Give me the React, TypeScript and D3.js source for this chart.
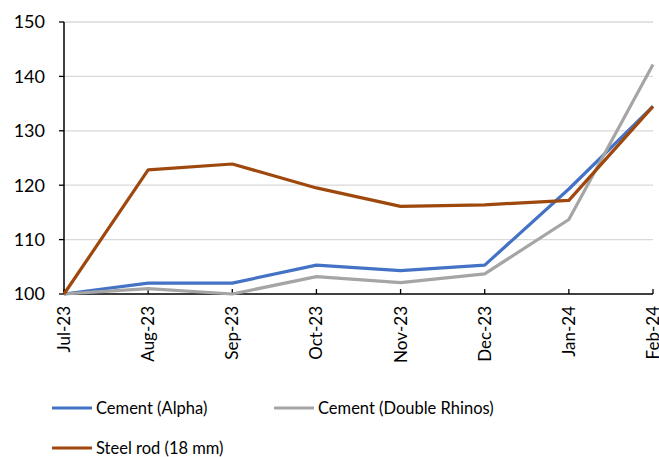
import * as d3 from "d3";

const months = ["Jul-23", "Aug-23", "Sep-23", "Oct-23", "Nov-23", "Dec-23", "Jan-24", "Feb-24"];
const alpha = [100, 102, 102, 105.3, 104.3, 105.3, 119.3, 134.5];
const doubleRhinos = [100, 101, 100, 103.2, 102.1, 103.7, 113.7, 142.2];
const steelRod = [100, 122.8, 123.9, 119.5, 116.1, 116.4, 117.2, 134.5];
const yTicks = [100, 110, 120, 130, 140, 150];

const series = [
  { name: "Cement (Alpha)", values: alpha, color: "#4472C4" },
  { name: "Cement (Double Rhinos)", values: doubleRhinos, color: "#A5A5A5" },
  { name: "Steel rod (18 mm)", values: steelRod, color: "#9E480E" },
];

const font = "Lato, 'Open Sans', sans-serif";

export default function App() {
  const width = 659;
  const height = 457;
  const left = 64;
  const right = 653;
  const top = 22;
  const bottom = 294;

  const x = d3.scalePoint<string>().domain(months).range([left, right]);
  const y = d3.scaleLinear().domain([100, 150]).range([bottom, top]);

  const lineGen = d3
    .line<number>()
    .x((_, i) => x(months[i]) as number)
    .y((d) => y(d));

  // legend slots: [x, y]
  const legendPos = [
    [52, 408],
    [274, 408],
    [52, 448],
  ];

  return (
    <svg
      width={width}
      height={height}
      style={{ position: "absolute", left: 0, top: 0, background: "#fff" }}
    >
      {yTicks.map((t) => (
        <g key={t}>
          {t > 100 && (
            <line x1={left} x2={right} y1={y(t)} y2={y(t)} stroke="#d9d9d9" strokeWidth={1.3} />
          )}
          <line x1={left - 5} x2={left} y1={y(t)} y2={y(t)} stroke="#000" strokeWidth={1.3} />
          <text
            x={45}
            y={y(t)}
            dy="0.35em"
            textAnchor="end"
            fontFamily={font}
            fontSize={18}
            fill="#000"
          >
            {t}
          </text>
        </g>
      ))}
      <line x1={left} x2={left} y1={top} y2={bottom} stroke="#000" strokeWidth={1.5} />
      <line x1={left} x2={right} y1={bottom} y2={bottom} stroke="#000" strokeWidth={1.5} />
      {months.map((m) => {
        const px = x(m) as number;
        return (
          <g key={m}>
            <line x1={px} x2={px} y1={bottom} y2={bottom - 5} stroke="#000" strokeWidth={1.3} />
            <text
              transform={`translate(${px},${bottom + 12}) rotate(-90)`}
              dy="0.35em"
              textAnchor="end"
              fontFamily={font}
              fontSize={17}
              fill="#000"
            >
              {m}
            </text>
          </g>
        );
      })}
      {series.map((s) => (
        <path
          key={s.name}
          d={lineGen(s.values) || ""}
          fill="none"
          stroke={s.color}
          strokeWidth={3.2}
          strokeLinejoin="round"
        />
      ))}
      {series.map((s, i) => {
        const [lx, ly] = legendPos[i];
        return (
          <g key={s.name}>
            <line x1={lx} x2={lx + 40} y1={ly} y2={ly} stroke={s.color} strokeWidth={3.2} />
            <text
              x={lx + 44}
              y={ly}
              dy="0.35em"
              fontFamily={font}
              fontSize={16.5}
              fill="#000"
            >
              {s.name}
            </text>
          </g>
        );
      })}
    </svg>
  );
}
